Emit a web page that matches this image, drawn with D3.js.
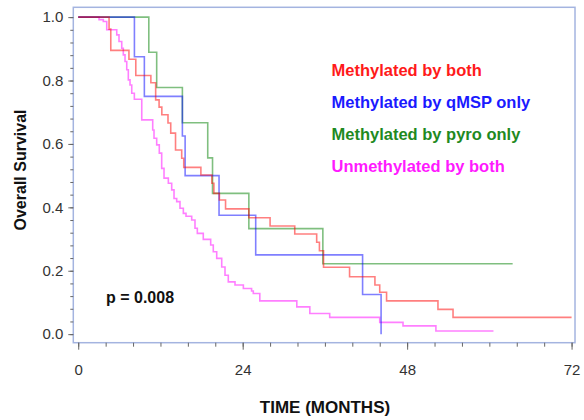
<!DOCTYPE html>
<html>
<head>
<meta charset="utf-8">
<script src="https://cdn.jsdelivr.net/npm/d3@7"></script>
<style>
  body { margin: 0; background: #fff; }
  svg { display: block; font-family: "Liberation Sans", Arial, sans-serif; }
</style>
</head>
<body>
<div id="chart"></div>
<script>
// Kaplan-Meier steps: time of each drop (months) and survival after it
const bothTime = [0, 4.5, 4.75, 7.4, 8.4, 10.6, 11.3, 11.8, 12.2, 13.1, 13.5, 14.2, 15.1, 15.4, 17.9, 19.5, 19.8, 20.6, 21.5, 24.9, 28.0, 31.6, 34.8, 35.2, 35.8, 39.6, 43.3, 44.0, 45.0, 52.5, 54.7, 72];
const bothSurv = [1, 0.962, 0.895, 0.867, 0.816, 0.793, 0.739, 0.716, 0.692, 0.666, 0.634, 0.581, 0.555, 0.526, 0.502, 0.476, 0.444, 0.423, 0.395, 0.367, 0.341, 0.316, 0.290, 0.263, 0.211, 0.181, 0.155, 0.132, 0.105, 0.078, 0.053, 0.053];

const qmspTime = [0, 8.2, 9.65, 15.2, 15.6, 20.55, 25.9, 41.5, 44.2];
const qmspSurv = [1, 0.875, 0.75, 0.625, 0.5, 0.375, 0.25, 0.125, 0];

const pyroTime = [0, 10.3, 11.45, 15.2, 18.9, 19.6, 24.9, 35.7, 63.4];
const pyroSurv = [1, 0.889, 0.778, 0.667, 0.556, 0.444, 0.333, 0.222, 0.222];

const unmethTime = [0, 3.04, 3.66, 4.16, 5.62, 5.95, 6.35, 6.58, 6.83, 7.08, 7.31, 7.56, 7.81, 8.19, 9.27, 10.87, 11.06, 11.45, 11.83, 12.18, 12.52, 13.15, 13.64, 13.98, 14.37, 14.85, 15.34, 15.73, 16.56, 17.04, 17.38, 18.25, 19.33, 19.71, 20.21, 20.94, 21.42, 21.9, 22.88, 24.1, 25.3, 25.55, 26.5, 31.9, 33.8, 36.7, 44.0, 47.4, 52.2, 60.6];
const unmethSurv = [1, 0.992, 0.986, 0.960, 0.944, 0.923, 0.902, 0.881, 0.860, 0.834, 0.802, 0.786, 0.760, 0.741, 0.676, 0.644, 0.618, 0.597, 0.571, 0.523, 0.492, 0.476, 0.455, 0.428, 0.418, 0.397, 0.381, 0.372, 0.360, 0.334, 0.318, 0.299, 0.281, 0.260, 0.239, 0.212, 0.186, 0.165, 0.155, 0.144, 0.136, 0.128, 0.105, 0.086, 0.065, 0.053, 0.037, 0.026, 0.010, 0.010];

const seriesNames = ["Methylated by both", "Methylated by qMSP only", "Methylated by pyro only", "Unmethylated by both"];
const xMajorTicks = [0, 24, 48, 72];
const xMinorTicks = d3.range(0, 73, 4);
const yMajorTicks = [0, 0.2, 0.4, 0.6, 0.8, 1.0];
const yMinorTicks = d3.range(0, 1.001, 0.04);
const pValueText = "p = 0.008";

const width = 584, height = 420;
const frame = {left: 73.3, right: 575, top: 7.3, bottom: 342.7};

const lineColors = ["#ff0000", "#0000ff", "#008000", "#ff00ff"];
const textColors = ["#ff1a1a", "#1a1aff", "#1f8a1f", "#ff1aff"];

const svg = d3.select("#chart").append("svg")
  .attr("width", width)
  .attr("height", height);

const x = d3.scaleLinear()
  .domain([-0.72, 72.5])
  .range([frame.left, frame.right]);

const y = d3.scaleLinear()
  .domain([-0.027, 1.031])
  .range([frame.bottom, frame.top]);

// plot frame
svg.append("rect")
  .attr("x", frame.left)
  .attr("y", frame.top)
  .attr("width", frame.right - frame.left)
  .attr("height", frame.bottom - frame.top)
  .attr("fill", "none")
  .attr("stroke", "#a4b4e0")
  .attr("stroke-width", 1.5);

// y axis, major + minor ticks
const yAxisG = svg.append("g")
  .attr("transform", "translate(" + frame.left + ",0)")
  .call(d3.axisLeft(y).tickValues(yMajorTicks).tickSize(5).tickPadding(5).tickFormat(d3.format(".1f")));
svg.append("g")
  .attr("transform", "translate(" + frame.left + ",0)")
  .call(d3.axisLeft(y).tickValues(yMinorTicks).tickSize(3).tickFormat(""));

// x axis, major + minor ticks
const xAxisG = svg.append("g")
  .attr("transform", "translate(0," + frame.bottom + ")")
  .call(d3.axisBottom(x).tickValues(xMajorTicks).tickSize(7).tickPadding(15));
svg.append("g")
  .attr("transform", "translate(0," + frame.bottom + ")")
  .call(d3.axisBottom(x).tickValues(xMinorTicks).tickSize(4).tickFormat(""));

svg.selectAll(".domain").remove();
svg.selectAll(".tick line").attr("stroke", "#666").attr("stroke-width", 1);
svg.selectAll(".tick text")
  .attr("font-family", "Liberation Sans, Arial, sans-serif")
  .attr("font-size", 15)
  .attr("fill", "#333");

// survival curves
const line = d3.line()
  .x(d => x(d[0]))
  .y(d => y(d[1]))
  .curve(d3.curveStepAfter);

const curves = [
  d3.zip(bothTime, bothSurv),
  d3.zip(qmspTime, qmspSurv),
  d3.zip(pyroTime, pyroSurv),
  d3.zip(unmethTime, unmethSurv)
];

// draw magenta first so the methylated groups sit on top
[3, 2, 1, 0].forEach(i => {
  svg.append("path")
    .datum(curves[i])
    .attr("d", line)
    .attr("fill", "none")
    .attr("stroke", lineColors[i])
    .attr("stroke-opacity", 0.5)
    .attr("stroke-width", 1.6);
});

// legend
svg.selectAll(".legend")
  .data(seriesNames)
  .enter()
  .append("text")
  .attr("class", "legend")
  .attr("x", 331.5)
  .attr("y", (d, i) => 76 + i * 32)
  .attr("font-size", 16.5)
  .attr("font-weight", "bold")
  .attr("fill", (d, i) => textColors[i])
  .text(d => d);

// p value
svg.append("text")
  .attr("x", 106)
  .attr("y", 302.5)
  .attr("font-size", 16)
  .attr("font-weight", "bold")
  .attr("fill", "#111")
  .text(pValueText);

// axis titles
svg.append("text")
  .attr("x", 325)
  .attr("y", 413)
  .attr("text-anchor", "middle")
  .attr("font-size", 17)
  .attr("font-weight", "bold")
  .attr("fill", "#111")
  .text("TIME (MONTHS)");

svg.append("text")
  .attr("transform", "translate(20,170) rotate(-90)")
  .attr("dy", "0.35em")
  .attr("text-anchor", "middle")
  .attr("font-size", 16)
  .attr("font-weight", "bold")
  .attr("fill", "#111")
  .text("Overall Survival");
</script>
</body>
</html>
